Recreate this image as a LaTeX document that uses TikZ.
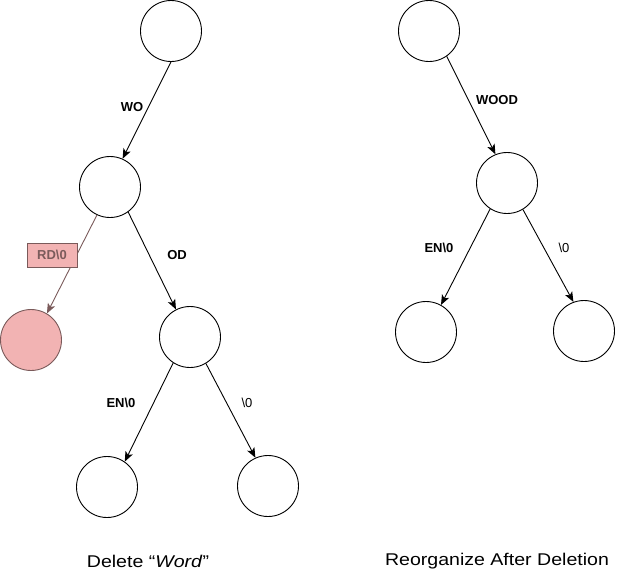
\documentclass[tikz,border=0pt]{standalone}
\usepackage{fontspec}
\setmainfont{Liberation Sans}
\usetikzlibrary{arrows.meta}
\definecolor{pinkfill}{HTML}{F2B3B3}
\definecolor{pinkline}{HTML}{7A5A5A}
\definecolor{pinktext}{HTML}{7B5B5B}
\tikzset{
  tnode/.style={circle,draw=black,line width=0.9pt,fill=white,minimum size=61pt,inner sep=0pt},
  delnode/.style={tnode,draw=pinkline,fill=pinkfill},
  edge/.style={line width=0.9pt,-{Stealth[length=10pt,width=8pt,inset=2.5pt]}},
  deledge/.style={edge,draw=pinkline,color=pinkline},
  lbl/.style={font=\fontsize{13}{15}\selectfont\bfseries,inner sep=0pt},
  lblr/.style={font=\fontsize{13}{15}\selectfont,inner sep=0pt},
  dellbl/.style={draw=pinkline,fill=pinkfill,text=pinktext,line width=0.8pt,font=\fontsize{13}{15}\selectfont\bfseries,minimum width=50pt,minimum height=24pt,inner sep=0pt},
  caption/.style={font=\fontsize{17}{20}\selectfont,inner sep=0pt}
}
\begin{document}
\begin{tikzpicture}[x=1pt,y=-1pt]
\useasboundingbox (0,0) rectangle (617,573);
% left tree
\node[tnode] (r1) at (171,31) {};
\node[tnode] (n2) at (110,187) {};
\node[delnode] (pk) at (31,340) {};
\node[tnode] (n3) at (190,337) {};
\node[tnode] (bl1) at (107,487) {};
\node[tnode] (br1) at (268,486) {};
\draw[edge] (r1.-90) -- (n2.66);
\draw[deledge] (n2.245) -- (pk.59);
\draw[edge] (n2.-54) -- (n3.117);
\draw[edge] (n3.237) -- (bl1.55);
\draw[edge] (n3.-59) -- (br1.114);
\node[lbl] (lwo) at (132,107) {WO};
\node[dellbl] (lrd) at (52,255) {RD\textbackslash 0};
\node[lbl] (lod) at (177,255) {OD};
\node[lbl] (len1) at (121,403) {EN\textbackslash 0};
\node[lblr] (lz1) at (247,403) {\textbackslash 0};
% right tree
\node[tnode] (r2) at (429,31) {};
\node[tnode] (m2) at (507,183) {};
\node[tnode] (bl2) at (426,332) {};
\node[tnode] (br2) at (584,331) {};
\draw[edge] (r2.-55) -- (m2.112);
\draw[edge] (m2.237) -- (bl2.61);
\draw[edge] (m2.-59) -- (br2.110);
\node[lbl] (lwood) at (497,100) {WOOD};
\node[lbl] (len2) at (439,248) {EN\textbackslash 0};
\node[lblr] (lz2) at (564,248) {\textbackslash 0};
% captions
\node[caption] (c1) at (148,561) {\scalebox{1.15}[1]{Delete \textquotedblleft\textit{Word}\textquotedblright}};
\node[caption] (c2) at (497,561) {\scalebox{1.15}[1]{Reorganize After Deletion}};
\end{tikzpicture}
\end{document}
